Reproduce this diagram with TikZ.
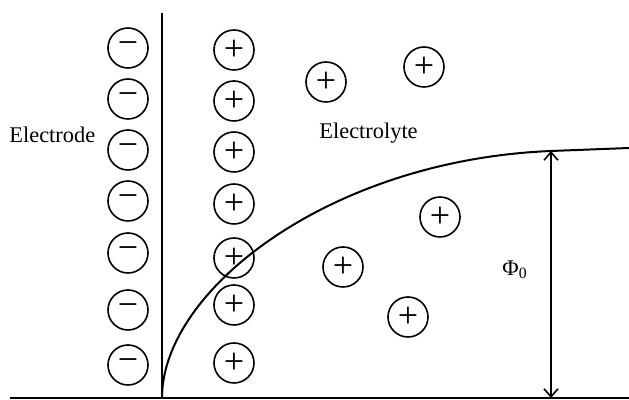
\documentclass[tikz,border=0pt]{standalone}
\usepackage{fontspec}
\setmainfont{Liberation Serif}
\usetikzlibrary{arrows.meta}
\tikzset{
  ion/.style={circle, draw=black, line width=0.8pt, minimum size=20pt, inner sep=0pt, font=\fontsize{18}{18}\selectfont},
  lbl/.style={font=\fontsize{11.2}{13}\selectfont, inner sep=0pt},
  wall/.style={draw=black, line width=1pt},
  arr/.style={{Straight Barb[length=4pt,width=7pt]}-{Straight Barb[length=4pt,width=7pt]}, draw=black, line width=0.8pt},
}
\begin{document}
\begin{tikzpicture}[x=0.5pt, y=-0.5pt]
\useasboundingbox (0,0) rectangle (629,400);
% electrode surface and base line
\coordinate (wtop) at (162,13);
\coordinate (wbot) at (162,398);
\coordinate (bl) at (10,398);
\coordinate (br) at (629,398);
\draw[wall] (wtop)--(wbot);
\draw[wall] (bl)--(br);
% labels
\node[lbl, anchor=west] (electrode) at (9,135) {Electrode};
\node[lbl, anchor=west] (electrolyte) at (319,133) {Electrolyte};
\node[lbl] (phi) at (515,270) {Φ\textsubscript{0}};
% negative charges on the electrode
\node[ion] (n1) at (128,48) {−};
\node[ion] (n2) at (128,99) {−};
\node[ion] (n3) at (128,150) {−};
\node[ion] (n4) at (128,201) {−};
\node[ion] (n5) at (128,253) {−};
\node[ion] (n6) at (128,310) {−};
\node[ion] (n7) at (128,365) {−};
% compact layer of cations
\node[ion] (p1) at (234,50) {+};
\node[ion] (p2) at (234,101) {+};
\node[ion] (p3) at (234,152) {+};
\node[ion] (p4) at (234,204) {+};
\node[ion] (p5) at (234,258) {+};
\node[ion] (p6) at (234,305) {+};
\node[ion] (p7) at (234,363) {+};
% diffuse cations
\node[ion] (d1) at (326,82) {+};
\node[ion] (d2) at (424,67) {+};
\node[ion] (d3) at (440,217) {+};
\node[ion] (d4) at (343,267) {+};
\node[ion] (d5) at (408,317) {+};
% potential profile
\coordinate (c0) at (162,398);
\coordinate (c1) at (551,151);
\coordinate (c2) at (629,148);
\draw[wall] (c0) .. controls (162,290) and (330,160) .. (c1) .. controls (590,150) .. (c2);
\coordinate (a1) at (551,398);
\draw[arr] (c1)--(a1);
\end{tikzpicture}
\end{document}
